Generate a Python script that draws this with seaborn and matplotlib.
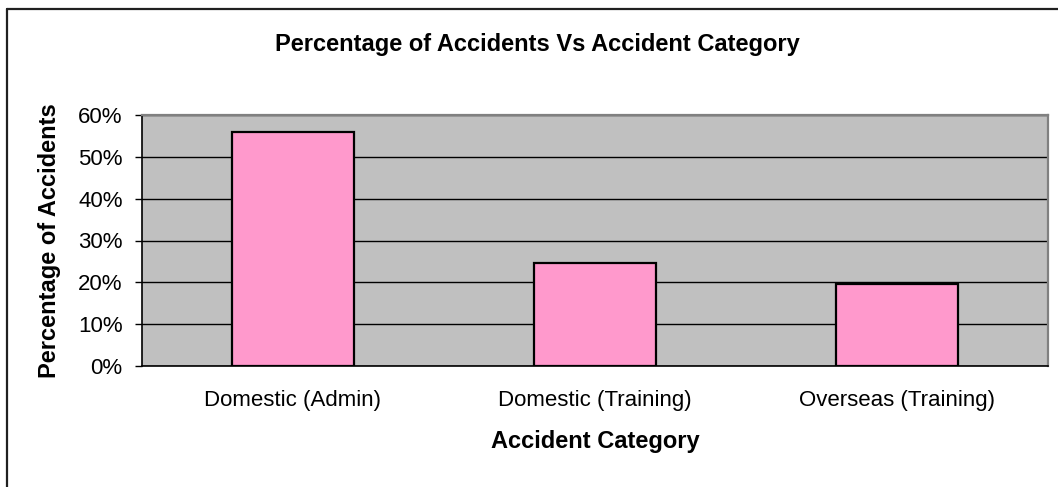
import matplotlib
matplotlib.use("Agg")
import matplotlib.pyplot as plt
import seaborn as sns
import pandas as pd
from matplotlib.ticker import FuncFormatter, FixedLocator
from matplotlib.lines import Line2D

categories = ["Domestic (Admin)", "Domestic (Training)", "Overseas (Training)"]
percentages = [56.0, 24.7, 19.7]
yticks = [0, 10, 20, 30, 40, 50, 60]
title = "Percentage of Accidents Vs Accident Category"
xlabel = "Accident Category"
ylabel = "Percentage of Accidents"

sns.set_style("white")
plt.rcParams["font.family"] = ["Liberation Sans", "DejaVu Sans"]
plt.rcParams["text.color"] = "black"
plt.rcParams["axes.labelcolor"] = "black"
plt.rcParams["xtick.color"] = "black"
plt.rcParams["ytick.color"] = "black"

W, H = 1058, 487
fig = plt.figure(figsize=(W / 100, H / 100), dpi=100)
ax = fig.add_axes([142 / W, 1 - 366 / H, (1048 - 142) / W, (366 - 115) / H])
ax.set_facecolor("#c0c0c0")

df = pd.DataFrame({"cat": categories, "pct": percentages})
sns.barplot(data=df, x="cat", y="pct", ax=ax, width=0.406, color="#ff99cc",
            edgecolor="black", linewidth=1.6, saturation=1, zorder=3)

ax.set_xlim(-0.5, 2.5)
ax.set_ylim(0, 60)
ax.yaxis.set_major_locator(FixedLocator(yticks))
ax.yaxis.set_major_formatter(FuncFormatter(lambda v, p: f"{int(v)}%"))
ax.grid(axis="y", color="black", linewidth=1.0, zorder=1)
ax.set_axisbelow(True)

ax.xaxis.set_minor_locator(FixedLocator([-0.5, 0.5, 1.5, 2.5]))
ax.tick_params(axis="x", which="major", length=0, pad=17, labelsize=16)
ax.tick_params(axis="x", which="minor", length=6, width=1, color="#404040", direction="out")
ax.tick_params(axis="y", which="major", length=5, width=1, color="black", direction="out",
               pad=9, labelsize=16, left=True)

for s in ["left", "bottom"]:
    ax.spines[s].set_color("black")
    ax.spines[s].set_linewidth(1.2)
for s in ["top", "right"]:
    ax.spines[s].set_color("#808080")
    ax.spines[s].set_linewidth(1.6)

ax.set_xlabel(xlabel, fontsize=17, fontweight="bold", labelpad=14)
ax.set_ylabel(ylabel, fontsize=17, fontweight="bold", labelpad=12)

fig.text(537 / W, 1 - 45 / H, title, fontsize=17, fontweight="bold",
         ha="center", va="center")

fig.add_artist(Line2D([7 / W, 7 / W], [0, 1 - 9 / H], transform=fig.transFigure,
                      color="#202020", linewidth=1.6))
fig.add_artist(Line2D([7 / W, 1], [1 - 9 / H, 1 - 9 / H], transform=fig.transFigure,
                      color="#202020", linewidth=1.6))

fig.savefig("out.png", dpi=100, facecolor="white")
